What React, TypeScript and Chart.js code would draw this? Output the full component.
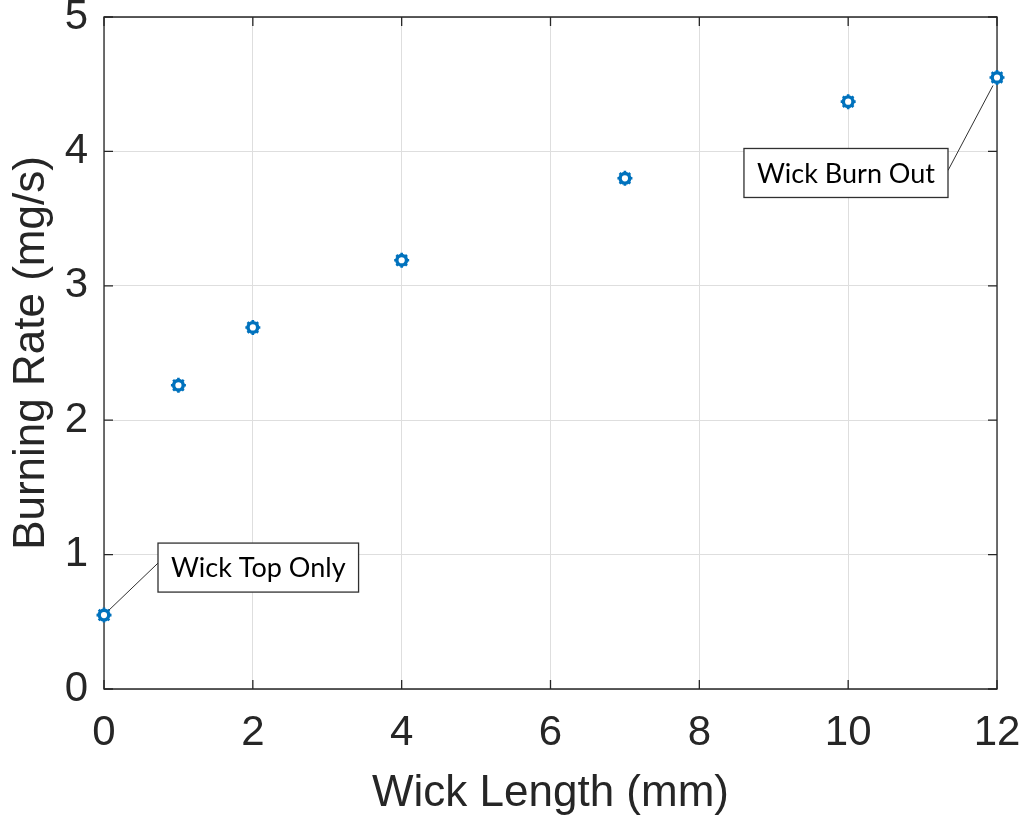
import React, { useEffect, useRef } from "react";
import { Chart, registerables } from "chart.js";

Chart.register(...registerables);

const wickLength = [0, 1, 2, 4, 7, 10, 12];
const burningRate = [0.55, 2.26, 2.69, 3.19, 3.8, 4.37, 4.55];
const xTicks = [0, 2, 4, 6, 8, 10, 12];
const yTicks = [0, 1, 2, 3, 4, 5];
const xTitle = "Wick Length (mm)";
const yTitle = "Burning Rate (mg/s)";
const annotationTexts = ["Wick Top Only", "Wick Burn Out"];
const annotationIndex = [0, 6];

const AXIS_FONT = "'Liberation Sans', Arial, Helvetica, sans-serif";
const NOTE_FONT = "Lato, 'Open Sans', sans-serif";
const AXIS_COLOR = "#262626";
const BLUE = "#0072BD";

const framePlugin = {
  id: "frame",
  beforeDatasetsDraw(chart: any) {
    const { ctx, chartArea } = chart;
    const { left, right, top, bottom } = chartArea;
    const xs = chart.scales.x;
    const ys = chart.scales.y;
    ctx.save();
    ctx.strokeStyle = AXIS_COLOR;
    ctx.lineWidth = 1.3;
    ctx.beginPath();
    ctx.rect(left, top, right - left, bottom - top);
    ctx.stroke();
    const tl = 9;
    ctx.beginPath();
    xTicks.forEach((v) => {
      const px = xs.getPixelForValue(v);
      ctx.moveTo(px, bottom);
      ctx.lineTo(px, bottom - tl);
      ctx.moveTo(px, top);
      ctx.lineTo(px, top + tl);
    });
    yTicks.forEach((v) => {
      const py = ys.getPixelForValue(v);
      ctx.moveTo(left, py);
      ctx.lineTo(left + tl, py);
      ctx.moveTo(right, py);
      ctx.lineTo(right - tl, py);
    });
    ctx.stroke();
    ctx.restore();
  },
  afterDatasetsDraw(chart: any) {
    const { ctx } = chart;
    const xs = chart.scales.x;
    const ys = chart.scales.y;
    ctx.save();
    ctx.font = `27px ${NOTE_FONT}`;
    annotationIndex.forEach((idx, k) => {
      const px = xs.getPixelForValue(wickLength[idx]);
      const py = ys.getPixelForValue(burningRate[idx]);
      const text = annotationTexts[k];
      const tw = ctx.measureText(text).width;
      const bw = tw + 26;
      const bh = 49;
      let bx: number, by: number, lx: number, ly: number, sx: number, sy: number;
      if (k === 0) {
        bx = px + 54;
        by = py - 72;
        lx = bx;
        ly = by + 20;
        sx = px + 5;
        sy = py - 5;
      } else {
        bx = px - 49 - bw;
        by = py + 71;
        lx = bx + bw;
        ly = by + 22;
        sx = px - 4;
        sy = py + 8;
      }
      ctx.strokeStyle = "#303030";
      ctx.lineWidth = 1;
      ctx.beginPath();
      ctx.moveTo(sx, sy);
      ctx.lineTo(lx, ly);
      ctx.stroke();
      ctx.fillStyle = "#ffffff";
      ctx.fillRect(bx, by, bw, bh);
      ctx.strokeStyle = "#303030";
      ctx.lineWidth = 1.3;
      ctx.strokeRect(bx, by, bw, bh);
      ctx.fillStyle = "#000000";
      ctx.textAlign = "left";
      ctx.textBaseline = "middle";
      ctx.fillText(text, bx + 13, by + bh / 2 + 1);
    });
    ctx.restore();
  },
};

export default function App() {
  const canvasRef = useRef<HTMLCanvasElement | null>(null);

  useEffect(() => {
    const canvas = canvasRef.current;
    if (!canvas) return;
    const points = wickLength.map((x, i) => ({ x, y: burningRate[i] }));
    const chart = new Chart(canvas, {
      type: "scatter",
      data: {
        datasets: [
          {
            data: points,
            pointStyle: "circle",
            pointRadius: 4.8,
            borderWidth: 3.4,
            borderColor: BLUE,
            backgroundColor: "#ffffff",
            clip: false,
          } as any,
          {
            data: points,
            pointStyle: "star",
            pointRadius: 7.5,
            borderWidth: 2.6,
            borderColor: BLUE,
            backgroundColor: BLUE,
            clip: false,
          } as any,
        ],
      },
      options: {
        animation: false,
        responsive: false,
        maintainAspectRatio: false,
        layout: { padding: { top: 17, right: 31, left: 0, bottom: 0 } },
        plugins: {
          legend: { display: false },
          tooltip: { enabled: false },
        },
        scales: {
          x: {
            type: "linear",
            min: 0,
            max: 12,
            afterBuildTicks: (s: any) => {
              s.ticks = xTicks.map((v) => ({ value: v }));
            },
            afterFit: (s: any) => {
              s.height = 134;
              s.paddingLeft = 0;
              s.paddingRight = 0;
            },
            grid: { color: "#dedede", lineWidth: 1, drawTicks: false },
            border: { display: false },
            ticks: {
              color: AXIS_COLOR,
              padding: 19,
              font: { family: AXIS_FONT, size: 42 },
              maxRotation: 0,
            },
            title: {
              display: true,
              text: xTitle,
              color: AXIS_COLOR,
              font: { family: AXIS_FONT, size: 44, lineHeight: 1.2 },
              padding: { top: 0, bottom: 3 },
            },
          },
          y: {
            type: "linear",
            min: 0,
            max: 5,
            afterBuildTicks: (s: any) => {
              s.ticks = yTicks.map((v) => ({ value: v }));
            },
            afterFit: (s: any) => {
              s.width = 104;
              s.paddingTop = 0;
              s.paddingBottom = 0;
            },
            grid: { color: "#dedede", lineWidth: 1, drawTicks: false },
            border: { display: false },
            ticks: {
              color: AXIS_COLOR,
              padding: 16,
              font: { family: AXIS_FONT, size: 42 },
            },
            title: {
              display: true,
              text: yTitle,
              color: AXIS_COLOR,
              font: { family: AXIS_FONT, size: 44, lineHeight: 1.2 },
              padding: { top: 5, bottom: 0 },
            },
          },
        },
      },
      plugins: [framePlugin],
    } as any);
    return () => chart.destroy();
  }, []);

  return (
    <div
      style={{
        position: "fixed",
        left: 0,
        top: 0,
        width: 1028,
        height: 823,
        background: "#ffffff",
      }}
    >
      <canvas ref={canvasRef} width={1028} height={823} style={{ display: "block" }} />
    </div>
  );
}
